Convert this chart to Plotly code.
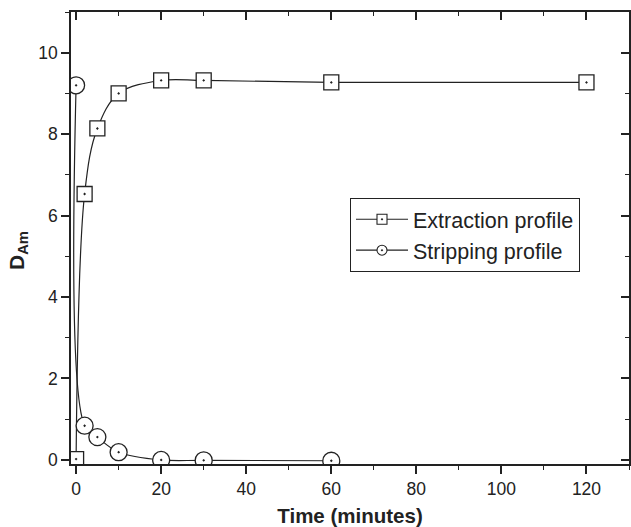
import plotly.graph_objects as go

time_extraction = [0, 2, 5, 10, 20, 30, 60, 120]
d_extraction = [0.02, 6.53, 8.14, 9.0, 9.32, 9.32, 9.27, 9.27]

time_stripping = [0, 2, 5, 10, 20, 30, 60]
d_stripping = [9.2, 0.84, 0.56, 0.19, 0.0, -0.01, -0.02]

series_names = ["Extraction profile", "Stripping profile"]

FONT = "Arial, Liberation Sans, Helvetica, sans-serif"
INK = "#222"

fig = go.Figure()
fig.add_trace(go.Scatter(
    x=time_extraction, y=d_extraction, name=series_names[0],
    mode="lines+markers", showlegend=False,
    line=dict(color=INK, width=1.2, shape="spline", smoothing=1),
    marker=dict(symbol="square-dot", size=15, color="white",
                line=dict(color=INK, width=1.3)),
))
fig.add_trace(go.Scatter(
    x=time_stripping, y=d_stripping, name=series_names[1],
    mode="lines+markers", showlegend=False,
    line=dict(color=INK, width=1.2, shape="spline", smoothing=1),
    marker=dict(symbol="circle-dot", size=17, color="white",
                line=dict(color=INK, width=1.3)),
))
# legend-only entries with smaller symbols (as in the reference)
for nm, sym in zip(series_names, ["square-dot", "circle-dot"]):
    fig.add_trace(go.Scatter(
        x=[None], y=[None], name=nm, mode="lines+markers",
        line=dict(color=INK, width=1.2),
        marker=dict(symbol=sym, size=10, color="white",
                    line=dict(color=INK, width=1.1)),
    ))
# invisible trace to anchor mirrored top/right axes
fig.add_trace(go.Scatter(x=[0], y=[0], xaxis="x2", yaxis="y2",
                         mode="markers", marker=dict(opacity=0),
                         showlegend=False, hoverinfo="skip"))

xr = [-1.2, 130]
yr = [-0.1, 11.0]
axis_common = dict(showgrid=False, zeroline=False, showline=True,
                   linecolor=INK, linewidth=1.6, tickcolor=INK,
                   tickwidth=1.6, ticklen=8)

fig.update_layout(
    width=631, height=527,
    margin=dict(l=71, r=2, t=12, b=63),
    paper_bgcolor="white", plot_bgcolor="white",
    font=dict(family=FONT, color=INK, size=17),
    xaxis=dict(range=xr, dtick=20, tick0=0, ticks="outside",
               minor=dict(dtick=10, ticks="outside", ticklen=4,
                          tickcolor=INK, tickwidth=1.4),
               title=dict(text="<b>Time (minutes)</b>",
                          font=dict(size=20.5), standoff=12),
               tickfont=dict(size=17.5),
               **axis_common),
    yaxis=dict(range=yr, dtick=2, tick0=0, ticks="outside",
               minor=dict(dtick=1, ticks="outside", ticklen=4,
                          tickcolor=INK, tickwidth=1.4),
               tickfont=dict(size=17.5),
               **axis_common),
    xaxis2=dict(range=xr, overlaying="x", side="top", dtick=20, tick0=0,
                ticks="inside", showticklabels=False,
                minor=dict(dtick=10, ticks="inside", ticklen=4,
                           tickcolor=INK, tickwidth=1.4),
                **axis_common),
    yaxis2=dict(range=yr, overlaying="y", side="right", dtick=2, tick0=0,
                ticks="inside", showticklabels=False,
                minor=dict(dtick=1, ticks="inside", ticklen=4,
                           tickcolor=INK, tickwidth=1.4),
                **axis_common),
    legend=dict(x=0.5, y=0.589, xanchor="left", yanchor="top",
                bordercolor=INK, borderwidth=1, bgcolor="white",
                font=dict(size=21.5), tracegroupgap=0, itemwidth=52),
    showlegend=True,
    annotations=[dict(text="<b>D<sub>Am</sub></b>", textangle=-90,
                      xref="paper", yref="paper",
                      x=(18 - 71) / 558, y=(464 - 251) / 452,
                      xanchor="center", yanchor="middle",
                      showarrow=False, font=dict(size=21, color=INK))],
)

fig.write_html("out.html")
